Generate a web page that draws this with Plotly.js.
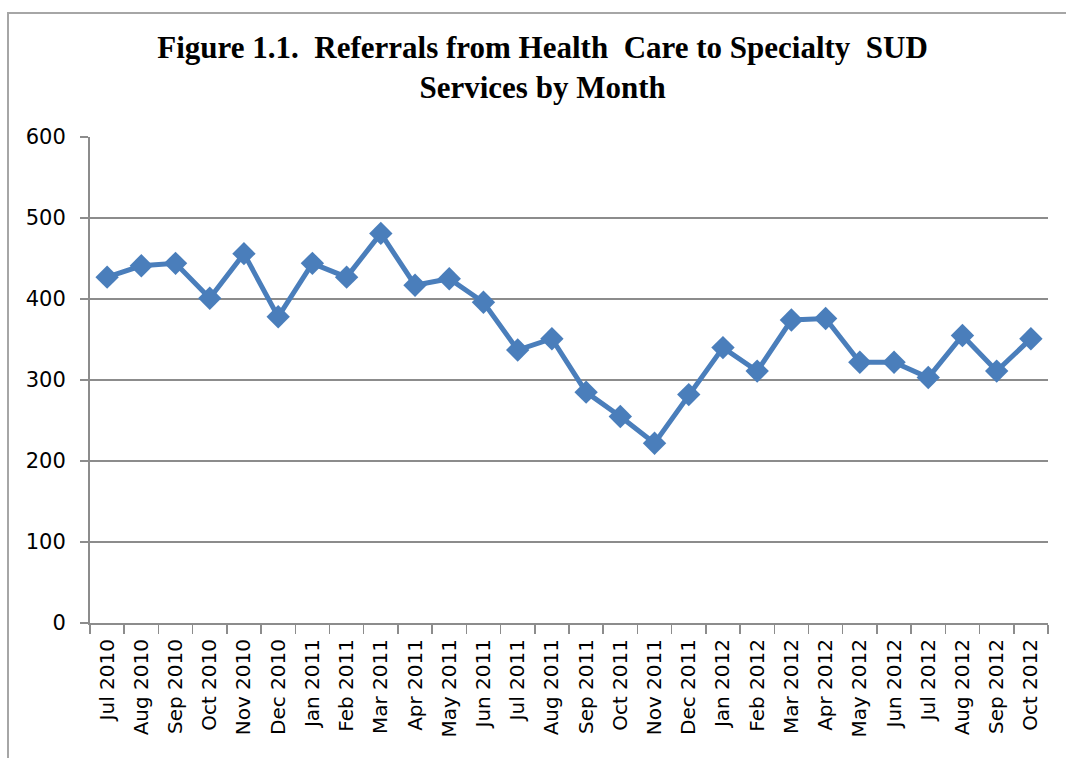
<!DOCTYPE html>
<html>
<head>
<meta charset="utf-8">
<script src="https://cdn.plot.ly/plotly-3.0.1.min.js"></script>
<style>
  html, body { margin: 0; padding: 0; background: #fff; }
  #wrap { position: relative; width: 1066px; height: 758px; }
  #chart { width: 1066px; height: 758px; }
  #frame { position: absolute; left: 7px; top: 12px; right: 0; bottom: 0;
           border-top: 2px solid #a6a6a6; border-left: 2px solid #a6a6a6; pointer-events: none; }
</style>
</head>
<body>
<div id="wrap">
  <div id="chart"></div>
  <div id="frame"></div>
</div>
<script>
const months = ["Jul 2010","Aug 2010","Sep 2010","Oct 2010","Nov 2010","Dec 2010",
  "Jan 2011","Feb 2011","Mar 2011","Apr 2011","May 2011","Jun 2011","Jul 2011","Aug 2011",
  "Sep 2011","Oct 2011","Nov 2011","Dec 2011","Jan 2012","Feb 2012","Mar 2012","Apr 2012",
  "May 2012","Jun 2012","Jul 2012","Aug 2012","Sep 2012","Oct 2012"];
const referrals = [427, 441, 444, 401, 456, 378, 444, 427, 481, 417, 425, 396, 337, 351,
  285, 255, 222, 282, 340, 311, 374, 376, 322, 322, 303, 355, 311, 351];
const yTicks = [0, 100, 200, 300, 400, 500, 600];

const trace = {
  x: months, y: referrals, type: "scatter", mode: "lines+markers",
  line: { color: "#4A7EBB", width: 5 },
  marker: { symbol: "diamond", size: 18, color: "#4A7EBB" },
  hoverinfo: "x+y"
};

const layout = {
  width: 1066, height: 758,
  margin: { l: 90, r: 18, t: 137, b: 135 },
  paper_bgcolor: "#ffffff", plot_bgcolor: "#ffffff",
  showlegend: false,
  title: {
    text: "<b>Figure 1.1.&nbsp; Referrals from Health&nbsp; Care to Specialty&nbsp; SUD<br>Services by Month</b>",
    font: { family: "Liberation Serif, Times New Roman, serif", size: 31, color: "#000" },
    x: 0.509, xanchor: "center", xref: "container",
    y: 1 - 58/758, yanchor: "top", yref: "container"
  },
  xaxis: {
    type: "category", range: [-0.5, 27.5],
    tickson: "boundaries", ticks: "outside", ticklen: 9, tickcolor: "#8c8c8c", tickwidth: 1.5,
    showline: true, linecolor: "#8c8c8c", linewidth: 2,
    showgrid: false, tickangle: -90, ticklabelstandoff: 6,
    tickfont: { family: "DejaVu Sans, Verdana, sans-serif", size: 20, color: "#000" },
    fixedrange: true
  },
  yaxis: {
    range: [0, 600], tickvals: yTicks, ticktext: yTicks.map(String),
    ticks: "outside", ticklen: 8, tickcolor: "#8c8c8c", tickwidth: 1.5,
    showline: true, linecolor: "#8c8c8c", linewidth: 2,
    showgrid: true, gridcolor: "#8c8c8c", gridwidth: 1.5, zeroline: false,
    ticklabelstandoff: 10,
    tickfont: { family: "DejaVu Sans, Verdana, sans-serif", size: 21, color: "#000" },
    fixedrange: true
  }
};

Plotly.newPlot("chart", [trace], layout, { displayModeBar: false, staticPlot: true });
</script>
</body>
</html>
